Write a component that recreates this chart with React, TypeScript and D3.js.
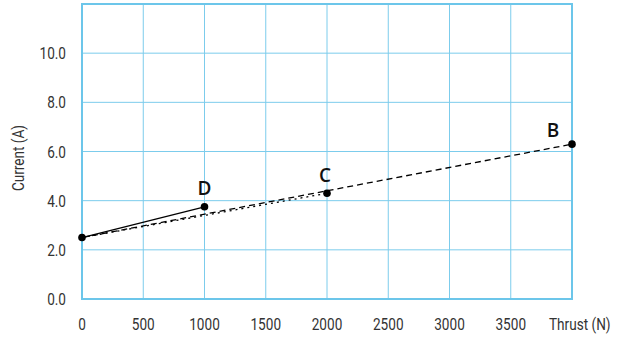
import React from "react";
import * as d3 from "d3";

const xTicks = [0, 500, 1000, 1500, 2000, 2500, 3000, 3500];
const yTicks = [0, 2, 4, 6, 8, 10];
const pointNames = ["D", "C", "B"];
const pointX = [1000, 2000, 4000];
const pointY = [3.75, 4.3, 6.3];
const origin = [0, 2.5];

function CText(props: { x: number; y: number; anchor?: string; rotate?: number; children: React.ReactNode }) {
  const rot = props.rotate ? ` rotate(${props.rotate})` : "";
  return (
    <text
      transform={`translate(${props.x},${props.y})${rot} scale(0.8,1)`}
      textAnchor={props.anchor || "start"}
      fontFamily="Roboto, sans-serif"
      fontSize={17}
      fill="#333"
    >
      {props.children}
    </text>
  );
}

export default function App() {
  const W = 624, H = 337;
  const L = 82, R = 572, T = 4, B = 299;
  const x = d3.scaleLinear().domain([0, 4000]).range([L, R]);
  const y = d3.scaleLinear().domain([0, 12]).range([B, T]);
  const grid = "#7cccec";
  const line = d3.line<number[]>().x((d) => x(d[0])).y((d) => y(d[1]));
  const labelOffsets = [[0, -12], [-2, -11], [-19, -7]];
  return (
    <svg width={W} height={H} style={{ position: "absolute", left: 0, top: 0, background: "#fff" }}>
      {d3.range(0, 4001, 500).map((v) => (
        <line key={"vx" + v} x1={x(v)} x2={x(v)} y1={T} y2={B} stroke={grid} strokeWidth={1} />
      ))}
      {d3.range(0, 12.01, 2).map((v) => (
        <line key={"hy" + v} x1={L} x2={R} y1={y(v)} y2={y(v)} stroke={grid} strokeWidth={1} />
      ))}
      <rect x={L} y={T} width={R - L} height={B - T} fill="none" stroke="#6cc6ea" strokeWidth={2} />
      {yTicks.map((v) => (
        <CText key={"yt" + v} x={66} y={y(v) + 6} anchor="end">
          {v.toFixed(1)}
        </CText>
      ))}
      {xTicks.map((v) => (
        <CText key={"xt" + v} x={x(v)} y={330} anchor="middle">
          {v}
        </CText>
      ))}
      <CText x={549} y={330}>Thrust (N)</CText>
      <CText x={24} y={158} anchor="middle" rotate={-90}>Current (A)</CText>
      <path d={line([origin, [pointX[1], pointY[1]]]) || ""} fill="none" stroke="#000" strokeWidth={1.3} strokeDasharray="2,4" />
      <path d={line([origin, [pointX[2], pointY[2]]]) || ""} fill="none" stroke="#000" strokeWidth={1.3} strokeDasharray="6,4" />
      <path d={line([origin, [pointX[0], pointY[0]]]) || ""} fill="none" stroke="#000" strokeWidth={1.3} />
      <circle cx={x(origin[0])} cy={y(origin[1])} r={3.8} fill="#000" />
      {pointNames.map((n, i) => (
        <g key={n}>
          <circle cx={x(pointX[i])} cy={y(pointY[i])} r={3.8} fill="#000" />
          <text
            x={x(pointX[i]) + labelOffsets[i][0]}
            y={y(pointY[i]) + labelOffsets[i][1]}
            textAnchor="middle"
            fontFamily="'Open Sans', sans-serif"
            fontWeight="600"
            fontSize={19}
            fill="#111"
          >
            {n}
          </text>
        </g>
      ))}
    </svg>
  );
}
